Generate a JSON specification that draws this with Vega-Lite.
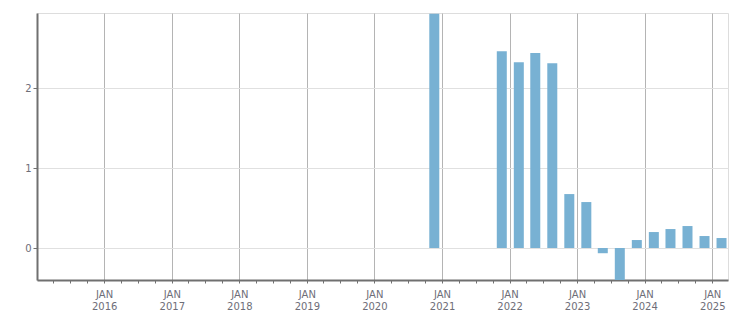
{
  "$schema": "https://vega.github.io/schema/vega-lite/v6.json",
  "width": 691,
  "height": 267,
  "autosize": {"type": "none"},
  "padding": {"left": 37, "top": 13, "right": 23, "bottom": 33},
  "background": "white",
  "config": {
    "view": {"stroke": "#dddddd", "strokeWidth": 1},
    "axis": {"labelFont": "DejaVu Sans", "labelFontSize": 10, "labelColor": "#6e6e78"}
  },
  "data": {
    "values": [
      {"date": "2020-11-20", "value": 2.93},
      {"date": "2021-11-20", "value": 2.46},
      {"date": "2022-02-20", "value": 2.325},
      {"date": "2022-05-20", "value": 2.44},
      {"date": "2022-08-20", "value": 2.31},
      {"date": "2022-11-20", "value": 0.675},
      {"date": "2023-02-20", "value": 0.575},
      {"date": "2023-05-20", "value": -0.065},
      {"date": "2023-08-20", "value": -0.45},
      {"date": "2023-11-20", "value": 0.1},
      {"date": "2024-02-20", "value": 0.2},
      {"date": "2024-05-20", "value": 0.2375},
      {"date": "2024-08-20", "value": 0.275},
      {"date": "2024-11-20", "value": 0.15},
      {"date": "2025-02-20", "value": 0.125}
    ]
  },
  "mark": {"type": "bar", "size": 10, "color": "#78b1d3", "clip": true},
  "encoding": {
    "x": {
      "field": "date",
      "type": "temporal",
      "title": null,
      "scale": {"type": "utc", "domain": [{"year": 2015, "month": 1, "date": 3, "utc": true}, {"year": 2025, "month": 3, "date": 27, "utc": true}], "nice": false, "padding": 0},
      "axis": {
        "tickCount": {"interval": "month", "step": 3},
        "labelExpr": "utcmonth(datum.value) == 0 ? ['JAN', utcFormat(datum.value, '%Y')] : ''",
        "labelPadding": 6,
        "labelLineHeight": 12,
        "labelOverlap": false,
        "labelFlush": false,
        "grid": true,
        "gridColor": "#b4b4b4",
        "gridOpacity": {"condition": {"test": "utcmonth(datum.value) == 0", "value": 1}, "value": 0},
        "domainColor": "#707070",
        "domainWidth": 2,
        "tickColor": "#707070",
        "tickSize": 3,
        "zindex": 0
      }
    },
    "y": {
      "field": "value",
      "type": "quantitative",
      "title": null,
      "scale": {"domain": [-0.4, 2.94], "nice": false, "zero": false},
      "axis": {
        "values": [0, 1, 2],
        "format": "d",
        "grid": true,
        "gridColor": "#e0e0e0",
        "domainColor": "#707070",
        "domainWidth": 2,
        "tickColor": "#707070",
        "tickSize": 4,
        "labelPadding": 2,
        "zindex": 0
      }
    }
  }
}
